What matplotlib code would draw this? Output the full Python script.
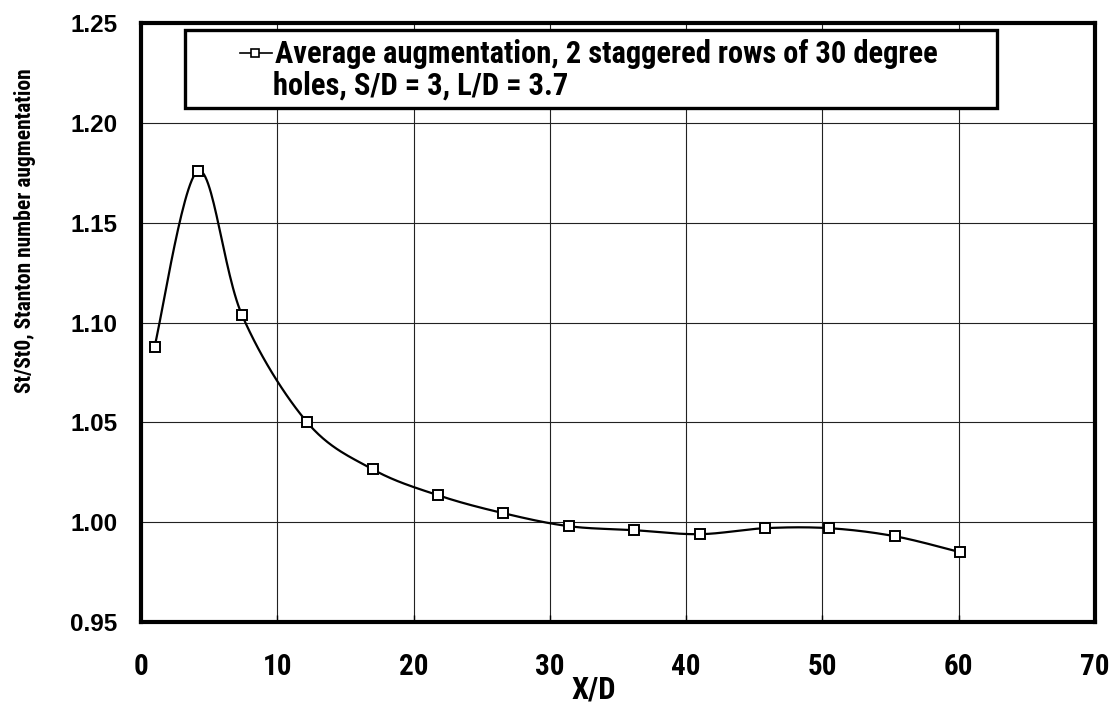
import numpy as np
import matplotlib
matplotlib.use("Agg")
import matplotlib.pyplot as plt
from matplotlib import font_manager
from matplotlib.font_manager import FontProperties
from matplotlib.lines import Line2D
from matplotlib.patches import Rectangle

# Measured spanwise-averaged augmentation downstream of the holes
x_d = [1.0, 4.2, 7.4, 12.2, 17.0, 21.8, 26.6, 31.4, 36.2, 41.0, 45.8, 50.5, 55.3, 60.1]
augmentation = [1.088, 1.176, 1.104, 1.050, 1.0265, 1.0135, 1.0045,
                0.998, 0.996, 0.994, 0.997, 0.997, 0.993, 0.985]

x_ticks = [0, 10, 20, 30, 40, 50, 60, 70]
y_ticks = [0.95, 1.00, 1.05, 1.10, 1.15, 1.20, 1.25]

legend_lines = ["Average augmentation, 2 staggered rows of 30 degree",
                "holes, S/D = 3, L/D = 3.7"]
x_label = "X/D"
y_label = "St/St0, Stanton number augmentation"

names = {f.name for f in font_manager.fontManager.ttflist}
wide = "Liberation Sans" if "Liberation Sans" in names else "DejaVu Sans"

# look for a condensed bold face file; fall back to the regular bold one
narrow_file = None
for key in ["LiberationSansNarrow-Bold.", "RobotoCondensed-Bold.",
            "DejaVuSansCondensed-Bold.", "OpenSansCondensed-Bold",
            "OpenSans_Condensed-Bold", "Roboto_Condensed-Bold"]:
    hits = [f.fname for f in font_manager.fontManager.ttflist if key in f.fname]
    if hits:
        narrow_file = hits[0]
        break


def nfont(size):
    if narrow_file:
        return FontProperties(fname=narrow_file, size=size)
    return FontProperties(family=wide, weight="bold", size=size * 0.85)


def smooth(xs, ys, n=30):
    # Catmull-Rom spline through the points, ends repeated
    p = np.column_stack([xs, ys])
    p = np.vstack([p[0], p, p[-1]])
    out = []
    t = np.linspace(0, 1, n)[:, None]
    for i in range(1, len(p) - 2):
        p0, p1, p2, p3 = p[i - 1], p[i], p[i + 1], p[i + 2]
        c1 = p1 + (p2 - p0) / 6
        c2 = p2 - (p3 - p1) / 6
        seg = ((1 - t) ** 3) * p1 + 3 * ((1 - t) ** 2) * t * c1 \
            + 3 * (1 - t) * t ** 2 * c2 + t ** 3 * p2
        out.append(seg if i == 1 else seg[1:])
    out = np.vstack(out)
    return out[:, 0], out[:, 1]


fig = plt.figure(figsize=(11.17, 7.13), dpi=100)
ax = fig.add_axes([0.1262, 0.1276, 0.854, 0.840])

sx, sy = smooth(x_d, augmentation)
ax.plot(sx, sy, color="black", lw=1.6, zorder=3)
ax.plot(x_d, augmentation, ls="none", marker="s", ms=7.5, mfc="white",
        mec="black", mew=1.4, zorder=4)

ax.set_xlim(0, 70)
ax.set_ylim(0.95, 1.25)
ax.set_xticks(x_ticks)
ax.set_yticks(y_ticks)
ax.set_xticklabels([str(v) for v in x_ticks], fontproperties=nfont(21))
ax.set_yticklabels([f"{v:.2f}" for v in y_ticks], family=wide,
                   fontweight="bold", fontsize=17.5)
ax.tick_params(axis="x", direction="in", length=5, width=1, pad=22)
ax.tick_params(axis="y", direction="in", length=0, pad=17)
ax.grid(True, color="#222222", lw=0.8)
for s in ax.spines.values():
    s.set_linewidth(3)

ax.text(0.475, -0.113, x_label, transform=ax.transAxes, ha="center",
        va="center", fontproperties=nfont(22))
ax.text(-0.122, 0.654, y_label, transform=ax.transAxes, ha="center",
        va="center", rotation=90, fontproperties=nfont(15.5))

# legend box drawn by hand so the symbol sits on the first line
ax.add_patch(Rectangle((0.046, 0.858), 0.851, 0.130, transform=ax.transAxes,
                       facecolor="white", edgecolor="black", lw=2.4,
                       zorder=5))
ax.add_line(Line2D([0.1038, 0.137], [0.950, 0.950], transform=ax.transAxes,
                   color="black", lw=1.2, zorder=6))
ax.add_line(Line2D([0.120], [0.950], transform=ax.transAxes, marker="s",
                   ms=6, mfc="white", mec="black", mew=1.2, zorder=7))
ax.text(0.1405, 0.933, legend_lines[0], transform=ax.transAxes,
        ha="left", va="baseline", fontproperties=nfont(22), zorder=7)
ax.text(0.138, 0.880, legend_lines[1], transform=ax.transAxes,
        ha="left", va="baseline", fontproperties=nfont(22), zorder=7)

fig.savefig("out.png", dpi=100)
